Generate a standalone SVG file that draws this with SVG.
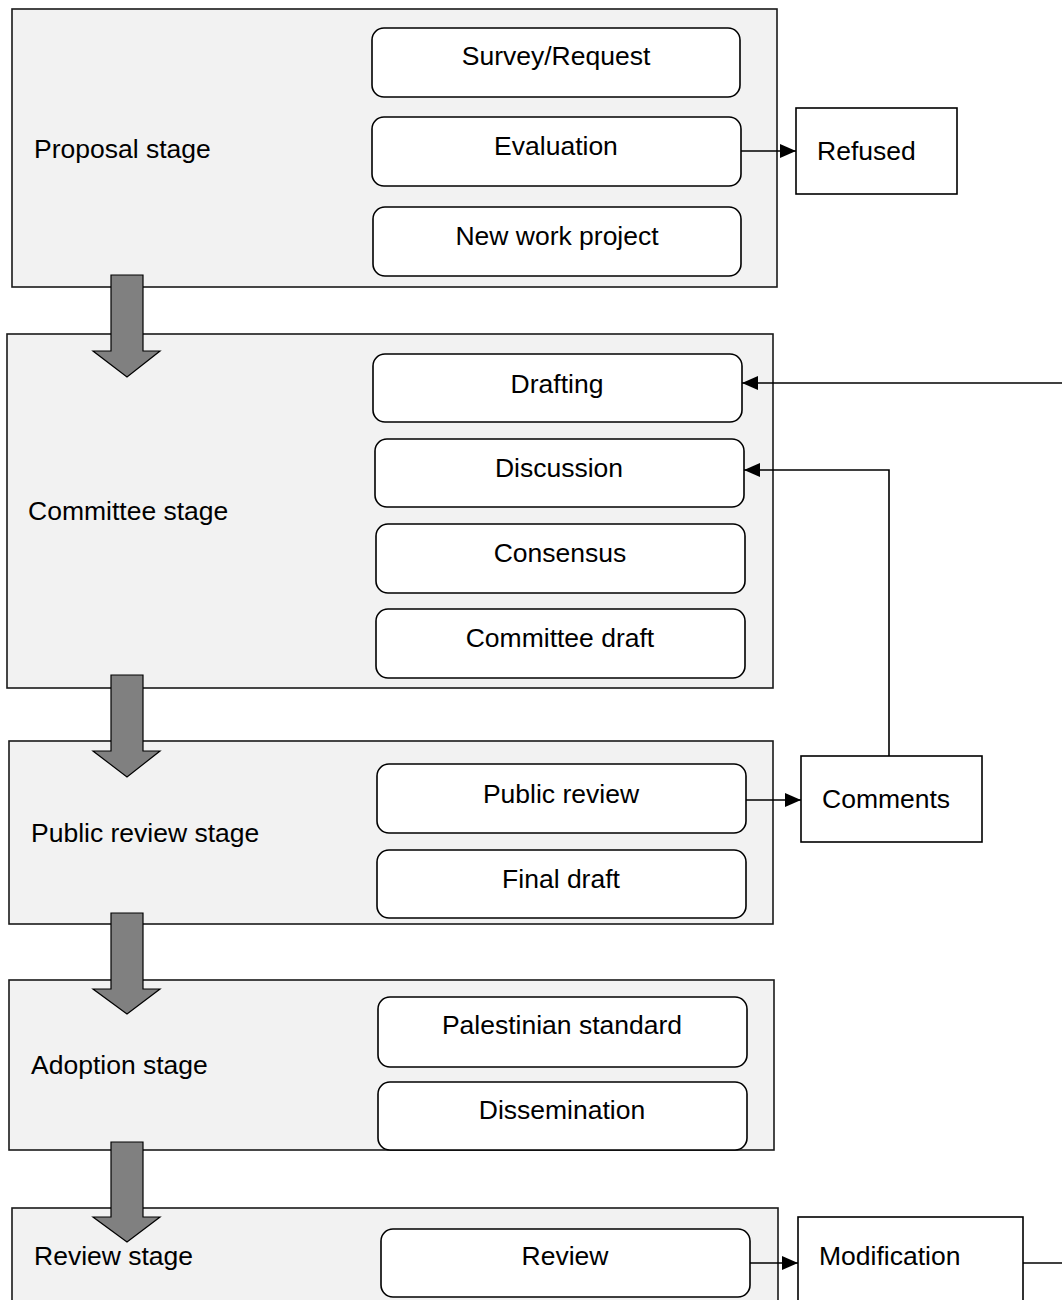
<svg xmlns="http://www.w3.org/2000/svg" width="1062" height="1300" viewBox="0 0 1062 1300">
<defs>
<style>
.stage{fill:#f2f2f2;stroke:#1a1a1a;stroke-width:1.6}
.step{fill:#ffffff;stroke:#000;stroke-width:1.6}
.ext{fill:#ffffff;stroke:#000;stroke-width:1.6}
.big{fill:#808080;stroke:#000;stroke-width:1.2;stroke-linejoin:miter}
.t{font-family:"Liberation Sans",Arial,sans-serif;font-size:26.5px;fill:#000}
.c{text-anchor:middle}
.conn{fill:none;stroke:#000;stroke-width:1.6}
</style>
<marker id="ah" viewBox="0 0 16 14" refX="16" refY="7" markerWidth="16" markerHeight="14" markerUnits="userSpaceOnUse" orient="auto">
<path d="M0,0 L16,7 L0,14 Z" fill="#000"/>
</marker>
</defs>

<g id="proposal-stage">
<rect class="stage" x="12" y="9" width="765" height="278"/>
<text class="t" x="34" y="158">Proposal stage</text>
</g>
<g id="survey-request">
<rect class="step" x="372" y="28" width="368" height="69" rx="12"/>
<text class="t c" x="556" y="65">Survey/Request</text>
</g>
<g id="evaluation">
<rect class="step" x="372" y="117" width="369" height="69" rx="12"/>
<text class="t c" x="556" y="155">Evaluation</text>
</g>
<g id="new-work-project">
<rect class="step" x="373" y="207" width="368" height="69" rx="12"/>
<text class="t c" x="557" y="245">New work project</text>
</g>
<g id="refused">
<rect class="ext" x="796" y="108" width="161" height="86"/>
<text class="t" x="817" y="160">Refused</text>
</g>

<g id="committee-stage">
<rect class="stage" x="7" y="334" width="766" height="354"/>
<text class="t" x="28" y="520">Committee stage</text>
</g>
<g id="drafting">
<rect class="step" x="373" y="354" width="369" height="68" rx="12"/>
<text class="t c" x="557" y="393">Drafting</text>
</g>
<g id="discussion">
<rect class="step" x="375" y="439" width="369" height="68" rx="12"/>
<text class="t c" x="559" y="477">Discussion</text>
</g>
<g id="consensus">
<rect class="step" x="376" y="524" width="369" height="69" rx="12"/>
<text class="t c" x="560" y="562">Consensus</text>
</g>
<g id="committee-draft">
<rect class="step" x="376" y="609" width="369" height="69" rx="12"/>
<text class="t c" x="560" y="647">Committee draft</text>
</g>

<g id="public-review-stage">
<rect class="stage" x="9" y="741" width="764" height="183"/>
<text class="t" x="31" y="842">Public review stage</text>
</g>
<g id="public-review">
<rect class="step" x="377" y="764" width="369" height="69" rx="12"/>
<text class="t c" x="561" y="803">Public review</text>
</g>
<g id="final-draft">
<rect class="step" x="377" y="850" width="369" height="68" rx="12"/>
<text class="t c" x="561" y="888">Final draft</text>
</g>
<g id="comments">
<rect class="ext" x="801" y="756" width="181" height="86"/>
<text class="t" x="822" y="808">Comments</text>
</g>

<g id="adoption-stage">
<rect class="stage" x="9" y="980" width="765" height="170"/>
<text class="t" x="31" y="1074">Adoption stage</text>
</g>
<g id="palestinian-standard">
<rect class="step" x="378" y="997" width="369" height="70" rx="12"/>
<text class="t c" x="562" y="1034">Palestinian standard</text>
</g>
<g id="dissemination">
<rect class="step" x="378" y="1082" width="369" height="68" rx="12"/>
<text class="t c" x="562" y="1119">Dissemination</text>
</g>

<g id="review-stage">
<rect class="stage" x="12" y="1208" width="766" height="120"/>
<text class="t" x="34" y="1265">Review stage</text>
</g>
<g id="review">
<rect class="step" x="381" y="1229" width="369" height="68" rx="12"/>
<text class="t c" x="565" y="1265">Review</text>
</g>
<g id="modification">
<rect class="ext" x="798" y="1217" width="225" height="110"/>
<text class="t" x="819" y="1265">Modification</text>
</g>

<g id="connectors">
<path class="big" d="M111,275 H143 V351 H160 L127,377 L93,351 H111 Z"/>
<path class="big" d="M111,675 H143 V751 H160 L127,777 L93,751 H111 Z"/>
<path class="big" d="M111,913 H143 V989 H160 L127,1014 L93,989 H111 Z"/>
<path class="big" d="M111,1142 H143 V1217 H160 L127,1242 L93,1217 H111 Z"/>
<path class="conn" d="M741,151 H796" marker-end="url(#ah)"/>
<path class="conn" d="M746,800 H801" marker-end="url(#ah)"/>
<path class="conn" d="M750,1263 H798" marker-end="url(#ah)"/>
<path class="conn" d="M1023,1263 H1062"/>
<path class="conn" d="M1062,383 H742" marker-end="url(#ah)"/>
<path class="conn" d="M889,756 V470 H744" marker-end="url(#ah)"/>
</g>
</svg>
